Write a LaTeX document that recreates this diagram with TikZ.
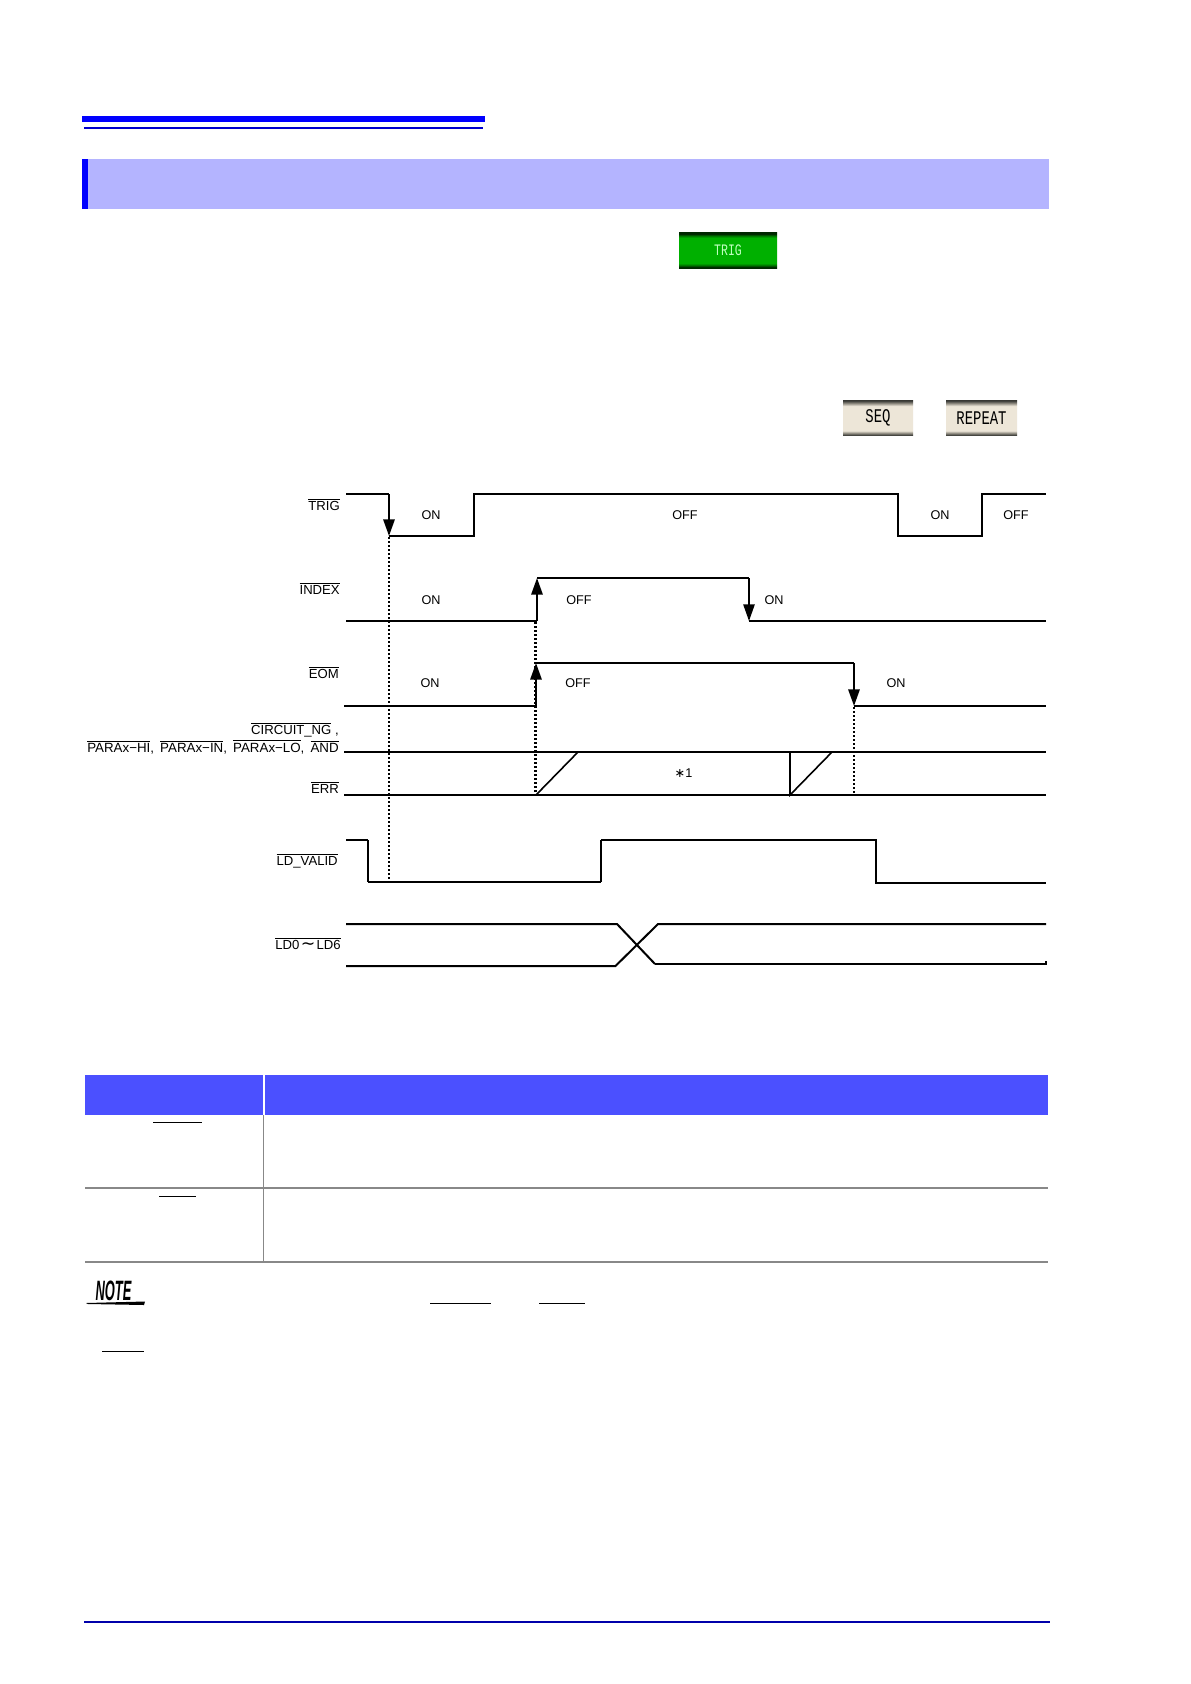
\documentclass[tikz,border=0pt]{standalone}
\usepackage{fontspec}
\setmainfont{Liberation Sans}
\newfontfamily\btnfont[FakeStretch=0.72]{Liberation Mono}
\newfontfamily\notefont[FakeStretch=0.46]{Liberation Sans}
\newfontfamily\symfont{DejaVu Sans}
\usetikzlibrary{arrows.meta}
\definecolor{pageblue}{HTML}{0000FF}
\definecolor{thinblue}{HTML}{0000CC}
\definecolor{bandblue}{HTML}{B4B4FF}
\definecolor{headblue}{HTML}{4B50FF}
\definecolor{rulegray}{HTML}{888888}
\definecolor{footblue}{HTML}{0000AA}
\definecolor{beige}{HTML}{EDE6D8}
\definecolor{btngreen}{HTML}{00B000}
\definecolor{btnmid}{HTML}{007000}
\definecolor{btndark}{HTML}{002800}
\definecolor{bgdark}{HTML}{3A3A36}
\definecolor{bgmid}{HTML}{8C887E}
% TikZ fits the middle 50bp of a 100bp shading to the path, so stops run from 25bp to 75bp
\pgfdeclareverticalshading{grnbtn}{100bp}{color(0bp)=(btndark);color(26.5bp)=(btndark);color(29bp)=(btnmid);color(32bp)=(btngreen);color(68bp)=(btngreen);color(71bp)=(btnmid);color(73.5bp)=(btndark);color(100bp)=(btndark)}
\pgfdeclareverticalshading{bgbtn}{100bp}{color(0bp)=(bgdark);color(25.5bp)=(bgdark);color(28.5bp)=(bgmid);color(32bp)=(beige);color(67bp)=(beige);color(71bp)=(bgmid);color(74.5bp)=(bgdark);color(100bp)=(bgdark)}
\newcommand{\ovl}[1]{\leavevmode\vbox{\hrule height .75pt\kern 1pt\hbox{#1}}}
\tikzset{
  sig/.style={line width=1.2pt,line join=miter},
  thick sig/.style={line width=1.5pt,line join=miter},
  dots/.style={line width=1.6pt,dash pattern=on 1.5pt off 1.5pt},
  edgearrow/.style={-{Triangle[length=12.5pt,width=8.5pt]}},
  lbl/.style={inner sep=0pt,font=\fontsize{9.5pt}{11pt}\selectfont},
  sname/.style={inner sep=0pt,anchor=base east,font=\fontsize{9.85pt}{12pt}\selectfont},
  btn/.style={inner sep=0pt,minimum width=#1*.75pt,minimum height=26.5pt},
  over/.style={line width=.75pt}
}
\begin{document}
\begin{tikzpicture}[x=.75pt,y=-.75pt]
\useasboundingbox (0,0) rectangle (1190,1684);
\fill[white] (0,0) rectangle (1190,1684);
% page header
\fill[pageblue] (82,116) rectangle (485,122);
\fill[thinblue] (84,127) rectangle (483,129);
\fill[bandblue] (82,159) rectangle (1049,209);
\fill[pageblue] (82,159) rectangle (88,209);
% buttons
\node[btn=98,shade,shading=grnbtn,text=green!25!white] (trigbtn) at (728,250.5) {\btnfont\fontsize{12pt}{13pt}\selectfont TRIG};
\node[btn=70,shade,shading=bgbtn] (seqbtn) at (878,418) {\btnfont\fontsize{14.5pt}{15pt}\selectfont\raisebox{-1.4pt}{SEQ}};
\node[btn=71,shade,shading=bgbtn] (repbtn) at (981.5,418) {\btnfont\fontsize{14.5pt}{15pt}\selectfont REPEAT};
% signal names
\node[sname] (nTRIG) at (340,510) {\ovl{TRIG}};
\node[sname] (nINDEX) at (340,594) {\ovl{INDEX}};
\node[sname] (nEOM) at (339,678) {\ovl{EOM}};
\node[sname] (nCIRC) at (339,734) {\ovl{CIRCUIT\_NG}\ ,};
\node[sname,font=\fontsize{10pt}{12pt}\selectfont] (nPARA) at (339,752) {\ovl{PARAx−HI},\kern 4.6pt\ovl{PARAx−IN},\kern 4.6pt\ovl{PARAx−LO},\kern 4.6pt\ovl{AND}};
\node[sname] (nERR) at (339,793) {\ovl{ERR}};
\node[sname] (nVALID) at (338,865) {\ovl{LD\_VALID}};
\node[sname] (nLD) at (341,949) {\ovl{LD0\kern1pt{\symfont\fontsize{13pt}{13pt}\selectfont∼}\kern1pt LD6}};
% TRIG
\draw[thick sig] (346,494) -- (389,494);
\draw[thick sig,edgearrow] (389,494) -- (389,536);
\draw[thick sig] (389,536) -- (474,536) -- (474,494) -- (898,494) -- (898,536) -- (982,536) -- (982,494) -- (1046,494);
% INDEX
\draw[sig] (346,621) -- (537,621);
\draw[thick sig,edgearrow] (537,621) -- (537,578);
\draw[sig] (537,578) -- (749,578);
\draw[sig,edgearrow] (749,578) -- (749,621);
\draw[sig] (749,621) -- (1046,621);
% EOM
\draw[sig] (344,706) -- (536,706);
\draw[thick sig,edgearrow] (536,706) -- (536,663);
\draw[sig] (536,663) -- (854,663);
\draw[thick sig,edgearrow] (854,663) -- (854,706);
\draw[sig] (854,706) -- (1046,706);
% judgment outputs
\draw[sig] (344,752) -- (1046,752);
\draw[sig] (344,795) -- (1046,795);
\draw[sig] (536,795) -- (578,752);
\draw[sig] (790,752) -- (790,795) -- (832,752);
% LD_VALID
\draw[sig] (346,840) -- (368,840);
\draw[thick sig] (368,840) -- (368,882);
\draw[sig] (368,882) -- (601,882);
\draw[thick sig] (601,882) -- (601,840);
\draw[sig] (601,840) -- (876,840) -- (876,883) -- (1046,883);
% LD0-LD6
\draw[thick sig] (346,924) -- (617,924) -- (655,964);
\draw[sig] (655,964) -- (1046,964) -- (1046,961);
\draw[thick sig] (346,966) -- (615.5,966) -- (658,924) -- (1046,924);
% dotted guides
\draw[dots] (389,537) -- (389,881);
\draw[dots] (535.5,622) -- (535.5,795);
\draw[dots] (854,707) -- (854,795);
% state labels
\node[lbl] (l1) at (431,515.5) {ON};
\node[lbl] (l2) at (685,515.5) {OFF};
\node[lbl] (l3) at (940,515.5) {ON};
\node[lbl] (l4) at (1016,515.5) {OFF};
\node[lbl] (l5) at (431,600.5) {ON};
\node[lbl] (l6) at (579,600.5) {OFF};
\node[lbl] (l7) at (774,600.5) {ON};
\node[lbl] (l8) at (430,683) {ON};
\node[lbl] (l9) at (578,683) {OFF};
\node[lbl] (l10) at (896,683) {ON};
\node[lbl] (l11) at (683.5,773.5) {{\symfont∗}1};
% table
\fill[headblue] (85,1075) rectangle (263,1115);
\fill[headblue] (265,1075) rectangle (1048,1115);
\draw[rulegray,line width=.9pt] (263.5,1115) -- (263.5,1262);
\draw[rulegray,line width=.9pt] (85,1188) -- (1048,1188);
\draw[rulegray,line width=.9pt] (85,1262) -- (1048,1262);
\draw[over] (153,1122) -- (202,1122);
\draw[over] (159,1196) -- (195.5,1196);
% note
\node[inner sep=0pt,anchor=base] (notemark) at (113.5,1300) {\notefont\bfseries\itshape\fontsize{21pt}{22pt}\selectfont NOTE};
\fill[black] (86,1303) -- (145,1301.5) -- (144,1305) -- (88,1304) -- cycle;
\draw[over] (430,1303) -- (491,1303);
\draw[over] (539,1303) -- (585,1303);
\draw[over] (102,1351) -- (143.5,1351);
% footer
\draw[footblue,line width=1.5pt] (84,1622) -- (1050,1622);
\end{tikzpicture}
\end{document}
